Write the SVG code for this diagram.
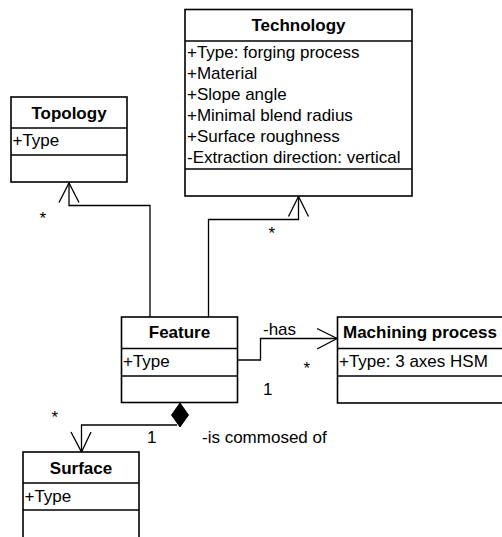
<svg xmlns="http://www.w3.org/2000/svg" width="502" height="537" viewBox="0 0 502 537">
<style>
.box{fill:#fff;stroke:#000;stroke-width:1.6}
.sep{stroke:#000;stroke-width:1.6}
.t{font-family:"Liberation Sans",Arial,sans-serif;font-size:17px;fill:#000}
.b{font-weight:bold;text-anchor:middle}
.ln{fill:none;stroke:#000;stroke-width:1.3}
</style>
<rect width="502" height="537" fill="#fff"/>
<g id="connectors">
<polyline class="ln" points="150,317 150,205.5 69,205.5 69,183"/>
<polyline class="ln" points="59,202.5 69,183 79,202.5"/>
<polyline class="ln" points="208.5,317 208.5,219.5 298.5,219.5 298.5,196.5"/>
<polyline class="ln" points="288.5,216.5 298.5,196.5 308.5,216.5"/>
<polyline class="ln" points="237.5,360 260.5,360 260.5,338.5 337,338.5"/>
<polyline class="ln" points="317,328.5 337,338.5 317,349"/>
<polyline class="ln" points="177,425 81.5,425 81.5,452"/>
<polyline class="ln" points="71,432 81.5,452 91,432"/>
<polygon points="180,403 188.5,415 180,427 171.5,415" fill="#000" stroke="#000" stroke-width="1"/>
<text class="t" x="39.5" y="224">*</text>
<text class="t" x="268.5" y="239">*</text>
<text class="t" x="263" y="335">-has</text>
<text class="t" x="303.5" y="374">*</text>
<text class="t" x="263" y="395">1</text>
<text class="t" x="51.5" y="423">*</text>
<text class="t" x="147" y="443">1</text>
<text class="t" x="202" y="443">-is commosed of</text>
</g>
<g id="technology">
<rect class="box" x="185" y="9.5" width="227" height="186.5"/>
<line class="sep" x1="185" y1="41" x2="412" y2="41"/>
<line class="sep" x1="185" y1="169" x2="412" y2="169"/>
<text class="t b" x="298.5" y="31">Technology</text>
<text class="t" x="187" y="57.5">+Type: forging process</text>
<text class="t" x="187" y="78.5">+Material</text>
<text class="t" x="187" y="99.5">+Slope angle</text>
<text class="t" x="187" y="120.5">+Minimal blend radius</text>
<text class="t" x="187" y="141.5">+Surface roughness</text>
<text class="t" x="187" y="162.5">-Extraction direction: vertical</text>
</g>
<g id="topology">
<rect class="box" x="11" y="97" width="116" height="85"/>
<line class="sep" x1="11" y1="128" x2="127" y2="128"/>
<line class="sep" x1="11" y1="155" x2="127" y2="155"/>
<text class="t b" x="69" y="119">Topology</text>
<text class="t" x="12.5" y="146">+Type</text>
</g>
<g id="feature">
<rect class="box" x="121.5" y="317" width="116" height="85.5"/>
<line class="sep" x1="121.5" y1="348.5" x2="237.5" y2="348.5"/>
<line class="sep" x1="121.5" y1="376" x2="237.5" y2="376"/>
<text class="t b" x="179.5" y="338">Feature</text>
<text class="t" x="123" y="366.5">+Type</text>
</g>
<g id="machining">
<rect class="box" x="337.5" y="317" width="180" height="86"/>
<line class="sep" x1="337.5" y1="348.5" x2="517" y2="348.5"/>
<line class="sep" x1="337.5" y1="376" x2="517" y2="376"/>
<text class="t" x="343" y="338" font-weight="bold">Machining process</text>
<text class="t" x="339" y="366.5">+Type: 3 axes HSM</text>
</g>
<g id="surface">
<rect class="box" x="23" y="452" width="116" height="100"/>
<line class="sep" x1="23" y1="483" x2="139" y2="483"/>
<line class="sep" x1="23" y1="510" x2="139" y2="510"/>
<text class="t b" x="81" y="473.5">Surface</text>
<text class="t" x="24.5" y="501.5">+Type</text>
</g>
</svg>
